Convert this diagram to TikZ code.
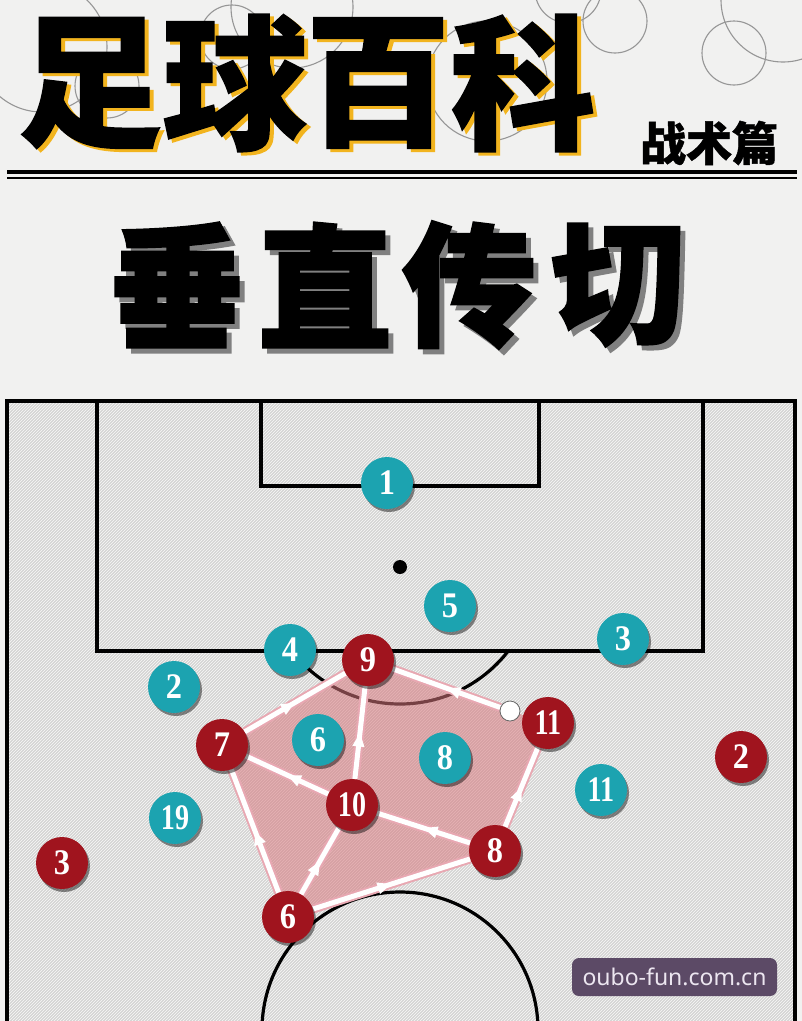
\documentclass[tikz,border=0pt]{standalone}
\usepackage{fontspec}
\newfontfamily\cjk{Noto Sans CJK SC}[BoldFeatures={FakeBold=1}]
\newfontfamily\cjkh{Noto Sans CJK SC}[BoldFeatures={FakeBold=2}]
\newfontfamily\numfont{Liberation Serif}
\newfontfamily\wmfont{Noto Sans}
\usetikzlibrary{shadows,decorations.markings,arrows.meta,patterns}
\pgfdeclarelayer{bg}
\pgfdeclarelayer{mid}
\pgfsetlayers{bg,mid,main}
\definecolor{bgcol}{RGB}{241,241,240}
\definecolor{pitchcol}{RGB}{212,212,211}
\definecolor{decocol}{RGB}{150,150,150}
\definecolor{titleyellow}{RGB}{242,180,30}
\definecolor{titlegray}{RGB}{128,128,128}
\definecolor{tealp}{RGB}{28,163,176}
\definecolor{redp}{RGB}{160,20,30}
\definecolor{pinkfill}{RGB}{215,120,125}
\definecolor{pinkedge}{RGB}{232,168,178}
\definecolor{wmcol}{RGB}{92,74,102}
\definecolor{wmtext}{RGB}{236,230,240}
\newcommand{\nm}[1]{\scalebox{0.9}[1]{#1}}
\newcommand{\nmm}[1]{\scalebox{0.78}[1]{#1}}
\begin{document}
\begin{tikzpicture}[x=1pt,y=-1pt,
  decocircle/.style={draw=decocol,line width=1.1pt},
  titletext/.style={inner sep=0pt,text=black,font=\cjk\bfseries\fontsize{145}{145}\selectfont},
  titleshadow/.style={titletext,text=titleyellow},
  subtext/.style={inner sep=0pt,text=black,font=\cjkh\bfseries\fontsize{134}{134}\selectfont},
  subshadow/.style={subtext,text=titlegray},
  pitchline/.style={draw=black,line width=3.2pt},
  player/.style={circle,minimum size=52pt,inner sep=0pt,text=white,
    font=\numfont\bfseries\fontsize{36}{36}\selectfont,
    drop shadow={shadow xshift=2pt,shadow yshift=-3pt,opacity=0.45,fill=black}},
  teamA/.style={player,fill=tealp},
  teamB/.style={player,fill=redp},
  ballnode/.style={circle,minimum size=20pt,inner sep=0pt,fill=white,draw=black!60,line width=0.8pt},
  passline/.style={draw=pinkedge,line width=2pt,double=white,double distance=5pt,
    postaction={decorate,decoration={markings,
      mark=at position 0.5 with {\arrow[white]{Triangle[width=11pt,length=14pt]}}}}},
  wmbox/.style={fill=wmcol,rounded corners=7pt,minimum width=205pt,minimum height=38pt,
    inner sep=0pt,text=wmtext,font=\wmfont\fontsize{23}{23}\selectfont}
]
\useasboundingbox (0,0) rectangle (802,1021);
\begin{pgfonlayer}{bg}
\begin{scope}
\clip (0,0) rectangle (802,1021);
\fill[bgcol] (0,0) rectangle (802,1021);
% decorative circles
\foreach \cx/\cy/\r in {42/47/65,107/86/32,232/37/32,292/7/61,487/81/60,568/-10/33,615/21/32,734/53/32,783/0/62}
  \draw[decocircle] (\cx,\cy) circle[radius=\r];
% main title
\node[titleshadow] (t1s) at (94,86) {足};
\node[titleshadow] (t2s) at (239,86) {球};
\node[titleshadow] (t3s) at (382,86) {百};
\node[titleshadow] (t4s) at (527,86) {科};
\node[titletext] (t1) at (90,83) {足};
\node[titletext] (t2) at (235,83) {球};
\node[titletext] (t3) at (378,83) {百};
\node[titletext] (t4) at (523,83) {科};
\node[inner sep=0pt,font=\cjk\bfseries\fontsize{46}{46}\selectfont] (sub) at (709,143) {战术篇};
\draw[line width=4pt] (7,172) -- (797,172);
\draw[line width=2pt] (7,178) -- (797,178);
% second title
\node[subshadow] (s1s) at (182,290) {垂};
\node[subshadow] (s2s) at (330,290) {直};
\node[subshadow] (s3s) at (474,290) {传};
\node[subshadow] (s4s) at (623,290) {切};
\node[subtext] (s1) at (177,285) {垂};
\node[subtext] (s2) at (325,285) {直};
\node[subtext] (s3) at (469,285) {传};
\node[subtext] (s4) at (618,285) {切};
% pitch
\fill[pitchcol] (7,401) rectangle (795,1040);
\fill[pattern=north east lines,pattern color=white!85!pitchcol] (7,401) rectangle (795,1040);
\draw[pitchline] (7,1040) -- (7,401) -- (795,401) -- (795,1040);
\draw[pitchline] (97,401) -- (97,651) -- (703,651) -- (703,401);
\draw[pitchline] (261,401) -- (261,486) -- (539,486) -- (539,401);
\fill (400,567) circle[radius=7];
\begin{scope}
\clip (0,652) rectangle (802,1021);
\draw[pitchline] (400,567) circle[radius=137];
\end{scope}
\draw[pitchline] (400,1030) circle[radius=138];
\fill (400,1028) circle[radius=6];
\end{scope}
\end{pgfonlayer}
% players
\node[teamA] (a1) at (387,483) {\nm{1}};
\node[teamA] (a5) at (450,606) {\nm{5}};
\node[teamA] (a3) at (623,639) {\nm{3}};
\node[teamA] (a4) at (290,650) {\nm{4}};
\node[teamA] (a2) at (174,687) {\nm{2}};
\node[teamA] (a6) at (318,740) {\nm{6}};
\node[teamA] (a8) at (445,758) {\nm{8}};
\node[teamA] (a11) at (601,790) {\nmm{11}};
\node[teamA] (a19) at (175,818) {\nmm{19}};
\node[teamB] (r9) at (368,660) {\nm{9}};
\node[teamB] (r11) at (548,723) {\nmm{11}};
\node[teamB] (r7) at (222,745) {\nm{7}};
\node[teamB] (r2) at (741,757) {\nm{2}};
\node[teamB] (r10) at (352,805) {\nmm{10}};
\node[teamB] (r8) at (495,851) {\nm{8}};
\node[teamB] (r3) at (62,863) {\nm{3}};
\node[teamB] (r6) at (288,917) {\nm{6}};
\node[ballnode] (ball) at (510,711) {};
% passing network
\begin{pgfonlayer}{mid}
\fill[pinkfill,opacity=0.55] (r7.center) -- (r9.center) -- (ball.center) -- (r11.center) -- (r8.center) -- (r6.center) -- cycle;
\draw[passline] (r6) -- (r7);
\draw[passline] (r7) -- (r9);
\draw[passline] (ball) -- (r9);
\draw[passline] (r8) -- (r11);
\draw[passline] (r6) -- (r8);
\draw[passline] (r6) -- (r10);
\draw[passline] (r10) -- (r9);
\draw[passline] (r10) -- (r7);
\draw[passline] (r8) -- (r10);
\end{pgfonlayer}
% watermark
\node[wmbox] (wm) at (674.5,977) {oubo-fun.com.cn};
\end{tikzpicture}
\end{document}
